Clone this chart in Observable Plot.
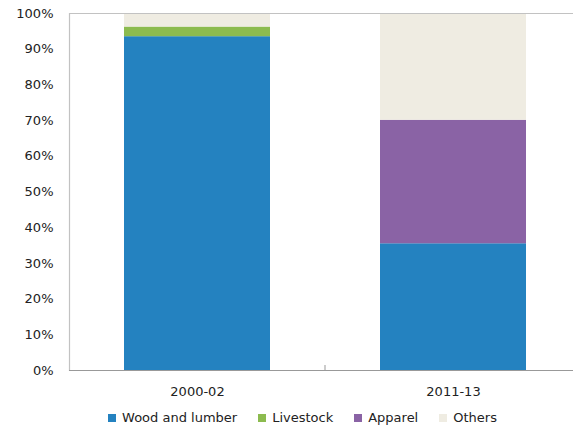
<!DOCTYPE html>
<html>
<head>
<meta charset="utf-8">
<script src="https://cdn.jsdelivr.net/npm/d3@7"></script>
<script src="https://cdn.jsdelivr.net/npm/@observablehq/plot@0.6"></script>
<style>
  html, body { margin: 0; padding: 0; background: #fff; }
  body { width: 573px; height: 427px; overflow: hidden; font-family: "DejaVu Sans", sans-serif; }
  #legend { display: flex; justify-content: center; align-items: center; padding-left: 32px; padding-top: 8px; height: 19px; font-size: 13px; color: #222; }
  .item { display: flex; align-items: center; margin: 0 10.5px; }
  .sw { width: 8px; height: 8px; margin-right: 6px; }
</style>
</head>
<body>
<div id="chart"></div>
<div id="legend"></div>
<script>
const categories = ["2000-02", "2011-13"];
const seriesNames = ["Wood and lumber", "Livestock", "Apparel", "Others"];
const woodAndLumber = [93.5, 35.5];
const livestock = [2.7, 0];
const apparel = [0, 34.6];
const others = [3.8, 29.9];
const yTicks = [0, 10, 20, 30, 40, 50, 60, 70, 80, 90, 100];
const colors = ["#2482c0", "#8cbb4f", "#8a63a5", "#efece2"];

const seriesValues = [woodAndLumber, livestock, apparel, others];
const data = [];
seriesNames.forEach((s, i) => {
  categories.forEach((c, j) => data.push({category: c, series: s, value: seriesValues[i][j]}));
});

const midTick = (index, scales, values, dimensions) => {
  const x = scales.x;
  const bw = x.bandwidth();
  const c0 = x(categories[0]) + bw / 2, c1 = x(categories[1]) + bw / 2;
  const xm = (c0 + c1) / 2;
  const y0 = scales.y(0);
  const g = d3.create("svg:line")
    .attr("x1", xm).attr("x2", xm)
    .attr("y1", y0).attr("y2", y0 - 5)
    .attr("stroke", "#999");
  return g.node();
};

const chart = Plot.plot({
  width: 573,
  height: 400,
  marginLeft: 69,
  marginRight: 0,
  marginTop: 13,
  marginBottom: 30,
  style: {fontFamily: "DejaVu Sans, sans-serif", fontSize: "13px", color: "#222"},
  x: {domain: categories, range: [69, 581], paddingInner: 0.43, paddingOuter: 0.215, label: null, tickSize: 0, tickPadding: 16},
  y: {domain: [0, 100], ticks: yTicks, tickFormat: d => d + "%", label: null, tickSize: 0, tickPadding: 16},
  color: {domain: seriesNames, range: colors},
  marks: [
    Plot.barY(data, {x: "category", y: "value", fill: "series", order: seriesNames}),
    Plot.ruleY([100], {stroke: "#c2c2c2", strokeWidth: 1.2}),
    Plot.frame({anchor: "left", stroke: "#c2c2c2", strokeWidth: 1.2}),
    Plot.ruleY([0], {stroke: "#999", strokeWidth: 1.2}),
    midTick
  ]
});
document.getElementById("chart").appendChild(chart);

const legend = document.getElementById("legend");
seriesNames.forEach((s, i) => {
  const item = document.createElement("div");
  item.className = "item";
  const sw = document.createElement("div");
  sw.className = "sw";
  sw.style.background = colors[i];
  const t = document.createElement("span");
  t.textContent = s;
  item.appendChild(sw);
  item.appendChild(t);
  legend.appendChild(item);
});
</script>
</body>
</html>
